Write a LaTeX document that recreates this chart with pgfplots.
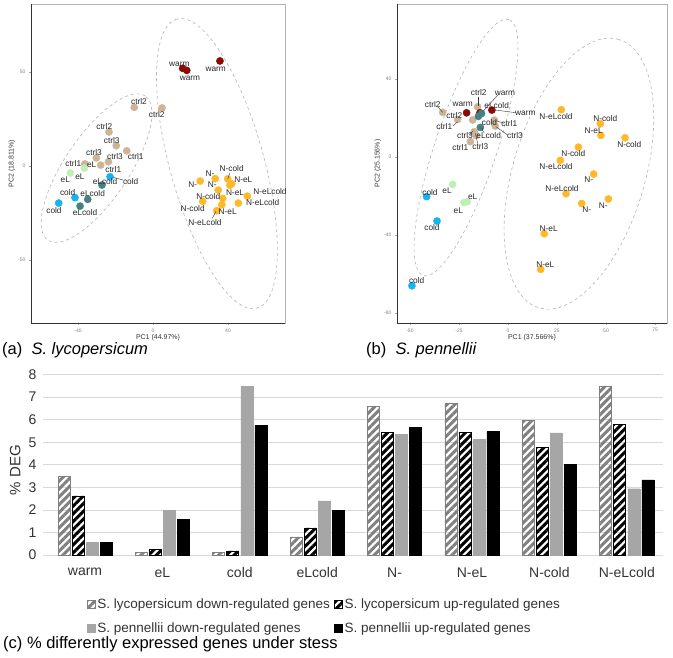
\documentclass[border=0pt]{standalone}
\usepackage{fontspec}
\setmainfont{Liberation Sans}
\setsansfont{Liberation Sans}
\usepackage{pgfplots}
\pgfplotsset{compat=1.18}
\usepackage{pgfplotstable}
\usetikzlibrary{patterns.meta}

\definecolor{cwarm}{RGB}{139,10,5}
\definecolor{cctrl}{RGB}{205,180,150}
\definecolor{ceL}{RGB}{190,240,180}
\definecolor{ccold}{RGB}{20,180,240}
\definecolor{celc}{RGB}{70,130,130}
\definecolor{cN}{RGB}{255,185,40}
\definecolor{lgray}{RGB}{217,217,217}
\definecolor{mgray}{RGB}{166,166,166}
\definecolor{sgray}{RGB}{128,128,128}

\newcommand{\fs}[1]{\fontsize{#1}{#1}\selectfont}
\newcommand{\lab}[3]{\node[font=\fs{8.3},text=black!85,inner sep=0pt] at (#1pt,-#2pt) {#3};}
\newcommand{\ldr}[4]{\draw[black!80,line width=0.4pt] (#1pt,-#2pt) -- (#3pt,-#4pt);}

% % DEG per condition
\pgfplotstableread{
x  a    b    c    d
0  3.48 2.62 0.57 0.57
1  0.13 0.24 1.98 1.58
2  0.13 0.18 7.48 5.75
3  0.80 1.20 2.40 1.98
4  6.58 5.45 5.35 5.65
5  6.73 5.45 5.12 5.48
6  5.97 4.75 5.42 4.03
7  7.47 5.77 2.94 3.33
}\degtab

\tikzset{ell/.style={gray!60, line width=0.6pt, dash pattern=on 3pt off 3pt}}
\pgfplotsset{
  pca/.style={anchor=south west, scale only axis,
    axis line style={gray!60, line width=0.6pt},
    tick align=outside, major tick length=2pt, tick style={gray!70},
    xtick pos=bottom, ytick pos=left,
    tick label style={font=\fs{5}, text=gray},
    label style={font=\fs{7}, text=black!80},
    xlabel style={anchor=center}, ylabel style={anchor=center},
    every axis plot/.append style={only marks, mark=*, mark size=3.6pt}}
}

\begin{document}
\begin{tikzpicture}
\useasboundingbox (0pt,0pt) rectangle (673pt,-657pt);

% ---- (a) S. lycopersicum PCA
\begin{axis}[pca, at={(31pt,-323pt)}, width=254pt, height=319pt,
  xmin=-65.07, xmax=70.4, ymin=-83.5, ymax=86.2,
  xtick={-40,0,40}, xticklabels={-40,0,40},
  ytick={-50,0,50}, yticklabels={-50,0,50},
  xlabel={PC1 (44.97\%)}, ylabel={PC2 (18.811\%)},
  xlabel style={at={(axis description cs:0.5,-0.047)}},
  ylabel style={at={(axis description cs:-0.076,0.5)}}]
\draw[black!80, line width=0.6pt] (rel axis cs:0,1) -- (rel axis cs:0,0) -- (rel axis cs:1,0);
\draw[ell, rotate around={56:(axis cs:-30.1,-1.1)}] (axis cs:-30.1,-1.1) ellipse [x radius=87pt, y radius=32pt];
\draw[ell, rotate around={105.5:(axis cs:34.1,1.3)}] (axis cs:34.1,1.3) ellipse [x radius=150pt, y radius=47pt];
\addplot[cwarm] coordinates {(15.8,52.0) (18.0,50.9) (35.7,55.9)};
\addplot[cctrl] coordinates {(-10.0,31.2) (4.8,30.9) (-23.5,18.1) (-19.6,10.8) (-14.0,8.1)
  (-30.2,4.3) (-23.8,2.3) (-27.9,0.5) (-36.4,1.1)};
\addplot[ceL] coordinates {(-36.6,-1.1) (-44.1,-3.7)};
\addplot[ccold] coordinates {(-22.9,-5.7) (-41.6,-16.8) (-50.3,-19.7)};
\addplot[celc] coordinates {(-27.2,-10.1) (-34.8,-17.7) (-38.9,-21.3)};
\addplot[cN] coordinates {(25.2,-8.0) (33.2,-6.7) (39.8,-6.8) (42.0,-9.4) (34.8,-12.8)
  (37.2,-17.2) (26.5,-18.8) (36.7,-20.6) (34.0,-23.8) (45.5,-19.7) (50.3,-16.0) (41.0,-10.2)};
\end{axis}

% ---- (b) S. pennellii PCA
\begin{axis}[pca, at={(397pt,-323pt)}, width=270pt, height=319pt,
  xmin=-56.6, xmax=81.1, ymin=-85.1, ymax=78.5,
  xtick={-50,-25,0,25,50,75}, xticklabels={-50,-25,0,25,50,75},
  ytick={-80,-40,0,40}, yticklabels={-80,-40,0,40},
  xlabel={PC1 (37.566\%)}, ylabel={PC2 (25.156\%)},
  xlabel style={at={(axis description cs:0.5,-0.047)}},
  ylabel style={at={(axis description cs:-0.0715,0.5)}}]
\draw[black!80, line width=0.6pt] (rel axis cs:0,1) -- (rel axis cs:0,0) -- (rel axis cs:1,0);
\draw[ell, rotate around={71.5:(axis cs:-21.4,4.9)}] (axis cs:-21.4,4.9) ellipse [x radius=135pt, y radius=31pt];
\draw[ell, rotate around={73.4:(axis cs:36.2,-8.5)}] (axis cs:36.2,-8.5) ellipse [x radius=140pt, y radius=66pt];
\addplot[cctrl] coordinates {(-33.3,22.9) (-25.7,19.3) (-15.5,25.8) (-7.0,19.0) (-6.5,15.9)
  (-18.0,19.0) (-17.2,13.0) (-19.2,7.9) (-16.3,11.0)};
\addplot[cwarm] coordinates {(-21.1,22.7) (-14.3,22.7) (-8.2,24.1)};
\addplot[celc] coordinates {(-15.1,20.9) (-13.5,22.3) (-14.1,15.2)};
\addplot[ceL] coordinates {(-28.2,-14.0) (-22.4,-23.3) (-20.8,-22.9)};
\addplot[ccold] coordinates {(-41.5,-20.3) (-36.2,-32.8) (-49.0,-66.0)};
\addplot[cN] coordinates {(27.2,24.3) (47.1,17.1) (47.4,11.1) (59.7,9.9) (35.9,5.1) (26.7,-1.7)
  (43.7,-8.7) (29.6,-18.8) (37.6,-23.8) (51.2,-21.5) (18.5,-39.3) (16.7,-57.6)};
\end{axis}

% ---- point labels (a)
\lab{179.3}{64}{warm} \lab{190}{78.3}{warm} \lab{215.7}{69}{warm}
\lab{139}{102}{ctrl2} \lab{156.7}{114.3}{ctrl2} \lab{104.3}{126.7}{ctrl2}
\lab{111.7}{140.3}{ctrl3} \lab{135.7}{156.7}{ctrl1} \lab{94}{152.7}{ctrl3}
\lab{115}{156.3}{ctrl3} \lab{73.3}{163.3}{ctrl1} \lab{91.7}{164.7}{eL}
\lab{113.3}{169.3}{ctrl1} \lab{65.3}{180}{eL} \lab{80}{176.7}{eL}
\lab{105}{181.7}{eLcold} \lab{130.7}{181.3}{cold} \lab{67.7}{192.7}{cold}
\lab{92.7}{194}{eLcold} \lab{85}{212.7}{eLcold} \lab{54}{210.7}{cold}
\lab{192.7}{185}{N-} \lab{210}{173.3}{N-} \lab{212.3}{185}{N-}
\lab{231.7}{169}{N-cold} \lab{243.3}{180}{N-eL} \lab{235}{192.3}{N-eL}
\lab{270}{191.7}{N-eLcold} \lab{208.3}{196.7}{N-cold} \lab{262.7}{202.7}{N-eLcold}
\lab{192.7}{208.3}{N-cold} \lab{227.7}{211.7}{N-eL} \lab{205}{222.7}{N-eLcold}
\ldr{123}{180}{113.3}{177.3} \ldr{230}{172.7}{227.7}{179} \ldr{212.3}{218.3}{216}{211.3}

% ---- point labels (b)
\lab{432.7}{104.3}{ctrl2} \lab{478.7}{92.7}{ctrl2} \lab{505}{93.3}{warm}
\lab{462.7}{104}{warm} \lab{496.7}{105.7}{eLcold} \lab{525.3}{113.3}{warm}
\lab{454.3}{115.7}{ctrl2} \lab{444.3}{127}{ctrl1} \lab{489.5}{122.3}{cold}
\lab{509.3}{124}{ctrl1} \lab{465}{136}{ctrl3} \lab{488.7}{136}{eLcold}
\lab{515}{136}{ctrl3} \lab{460.3}{147.7}{ctrl1} \lab{480.3}{146.7}{ctrl3}
\lab{447}{190.7}{eL} \lab{430}{192.3}{cold} \lab{472.7}{196.7}{eL}
\lab{458.3}{210.7}{eL} \lab{432}{227.7}{cold} \lab{416.7}{280.7}{cold}
\lab{556}{116.7}{N-eLcold} \lab{605.3}{118.3}{N-cold} \lab{593.7}{130.7}{N-eL}
\lab{629.3}{145}{N-cold} \lab{573.3}{153.7}{N-cold} \lab{556}{166.7}{N-eLcold}
\lab{588.7}{180}{N-} \lab{562}{189}{N-eLcold} \lab{586.7}{210}{N-}
\lab{603.3}{205.7}{N-} \lab{548.7}{229}{N-eL} \lab{545.3}{264.7}{N-eL}
\ldr{437.7}{106.7}{442.7}{112.3} \ldr{477.7}{96.7}{477.7}{106}
\ldr{498.7}{94}{482.7}{111.7} \ldr{516}{112.7}{495.3}{110}
\ldr{452.7}{126}{457.7}{121.7} \ldr{469.3}{135}{473.3}{130.7}
\ldr{484.3}{133.3}{481.7}{128.3} \ldr{507.7}{135}{496}{126.7}
\ldr{504.3}{123.3}{496}{120.7} \ldr{477.7}{143.3}{475.3}{133.3}

% ---- panel captions
\node[anchor=west, inner sep=0pt, font=\fs{16.5}] at (2pt,-350pt) {(a)\ \ \textit{S. lycopersicum}};
\node[anchor=west, inner sep=0pt, font=\fs{16.5}] at (366pt,-350pt) {(b)\ \ \textit{S. pennellii}};
\node[anchor=west, inner sep=0pt, font=\fs{16.5}] at (3pt,-644pt) {(c) \% differently expressed genes under stess};

% ---- (c) bar chart
\begin{axis}[at={(43pt,-555pt)}, anchor=south west, scale only axis,
  width=620pt, height=180.4pt,
  xmin=-0.543, xmax=7.468, ymin=0, ymax=8,
  ybar=2pt, bar width=12pt,
  xtick={0,...,7}, xticklabels={warm,eL,cold,eLcold,N-,N-eL,N-cold,N-eLcold},
  ytick={0,...,8},
  /pgf/number format/assume math mode=true,
  axis line style={draw=none}, major tick length=0pt,
  ymajorgrids, grid style={lgray, line width=0.8pt},
  tick label style={font=\fs{14}, text=black!80},
  xticklabel style={yshift=-9pt},
  yticklabel style={xshift=-3pt},
  ylabel={\% DEG}, ylabel style={font=\fs{15}, text=black!80, at={(axis description cs:-0.045,0.471)}, anchor=center},
  legend columns=2,
  legend cell align=left,
  legend image code/.code={\draw[#1, line width=0.6pt] (0pt,-4pt) rectangle (8pt,4pt);},
  legend style={at={(axis description cs:0.071,-0.233)}, anchor=north west, draw=none, fill=none,
    font=\fs{13.5}, text=black!80, inner sep=0pt, row sep=10pt,
    nodes={inner sep=1.5pt},
    /tikz/every even column/.append style={column sep=3pt}}]
\addplot[draw=sgray, line width=0.8pt, pattern={Lines[angle=45,distance=5.5pt,line width=3pt]}, pattern color=sgray]
  table[x=x, y=a] {\degtab};
\addplot[draw=black, line width=0.8pt, pattern={Lines[angle=45,distance=5.5pt,line width=3pt]}, pattern color=black]
  table[x=x, y=b] {\degtab};
\addplot[draw=mgray, fill=mgray] table[x=x, y=c] {\degtab};
\addplot[draw=black, fill=black] table[x=x, y=d] {\degtab};
\legend{S. lycopersicum down-regulated genes, S. lycopersicum up-regulated genes,
  S. pennellii down-regulated genes, S. pennellii up-regulated genes}
\end{axis}
\end{tikzpicture}
\end{document}
